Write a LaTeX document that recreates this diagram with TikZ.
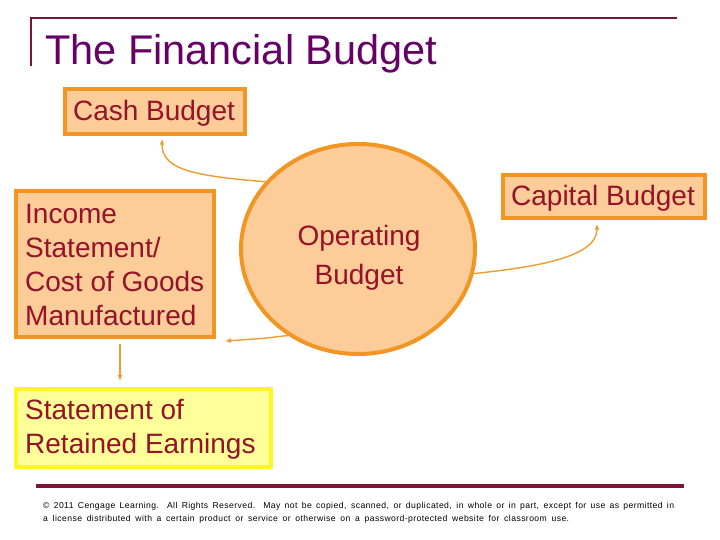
\documentclass[tikz,border=0pt]{standalone}
\usepackage{fontspec}
\setmainfont{Liberation Sans}
\usetikzlibrary{shapes.geometric,arrows.meta}
\definecolor{ttlpurple}{RGB}{102,0,102}
\definecolor{rulered}{RGB}{125,20,52}
\definecolor{txtred}{RGB}{150,18,40}
\definecolor{boxorange}{RGB}{242,150,35}
\definecolor{peach}{RGB}{252,204,153}
\definecolor{yelfill}{RGB}{255,255,153}
\definecolor{yelline}{RGB}{252,245,40}
\definecolor{arrcol}{RGB}{236,158,50}
\tikzset{
  bbox/.style={draw=boxorange, line width=3.5pt, fill=peach, inner sep=0pt},
  btext/.style={text=txtred, inner sep=0pt, font=\fontsize{28}{33.7}\selectfont},
  conn/.style={draw=arrcol, line width=1.4pt, -{Latex[length=6pt,width=5pt]}},
}
\begin{document}
\begin{tikzpicture}[x=1pt,y=-1pt]
\useasboundingbox (0,0) rectangle (720,540);
\fill[white] (0,0) rectangle (720,540);
% title rules
\coordinate (tl) at (31,18);
\coordinate (tr) at (677,18);
\coordinate (tb) at (31,66);
\draw[rulered, line width=2.5pt] (30,18) -- (tr);
\draw[rulered, line width=2pt] (tl) -- (tb);
\node[anchor=base west, text=ttlpurple, font=\fontsize{41.5}{42}\selectfont, inner sep=0pt] (title) at (45,65) {The Financial Budget};
% boxes
\node[bbox, minimum width=180pt, minimum height=45pt] (cash) at (155,111.5) {};
\node[btext, anchor=base] (cashtxt) at (154,121) {Cash Budget};
\node[bbox, minimum width=202pt, minimum height=43pt] (cap) at (604,196.5) {};
\node[btext, anchor=base] (captxt) at (603,206) {Capital Budget};
\node[bbox, minimum width=198pt, minimum height=146pt] (inc) at (115,264) {};
\node[btext, anchor=west, align=left] (inctxt) at (25,265)
  {Income\\Statement/\\Cost of Goods\\Manufactured};
\node[bbox, draw=yelline, fill=yelfill, line width=4pt, minimum width=255pt, minimum height=78pt] (ret) at (143.5,428) {};
\node[btext, anchor=west, align=left] (rettxt) at (25,429)
  {Statement of\\Retained Earnings};
\node[ellipse, draw=boxorange, line width=4pt, fill=peach, minimum width=234pt, minimum height=210pt] (ell) at (358,249) {};
\node[btext, align=center, font=\fontsize{28}{39}\selectfont] (elltxt) at (359,258) {Operating\\Budget};
% connectors
\coordinate (a3) at (225,341);
\draw[conn] (ell.144) .. controls +(-75,-6) and +(0,30) .. ([xshift=7pt,yshift=-3pt]cash.south);
\draw[conn] (ell.-12) .. controls +(55,-6) and +(0,35) .. ([xshift=-7pt,yshift=-4pt]cap.south);
\draw[conn] (ell.231) .. controls +(-25,3) .. (a3);
\draw[conn, shorten <=5pt, shorten >=6pt] ([xshift=5pt]inc.south) -- ([xshift=5pt]inc.south |- ret.north);
% footer
\coordinate (fl) at (36,486);
\coordinate (fr) at (684,486);
\draw[rulered, line width=3.5pt] (fl) -- (fr);
\node[anchor=west, inner sep=0pt, font=\fontsize{8.6}{11}\selectfont\addfontfeatures{LetterSpace=5}] (f1) at (43,506)
  {\makebox[631pt][s]{© 2011 Cengage Learning.  All Rights Reserved.  May not be copied, scanned, or duplicated, in whole or in part, except for use as permitted in}};
\node[anchor=west, inner sep=0pt, font=\fontsize{8.6}{11}\selectfont\addfontfeatures{LetterSpace=5}] (f2) at (43,519)
  {\makebox[526pt][s]{a license distributed with a certain product or service or otherwise on a password-protected website for classroom use.}};
\end{tikzpicture}
\end{document}
